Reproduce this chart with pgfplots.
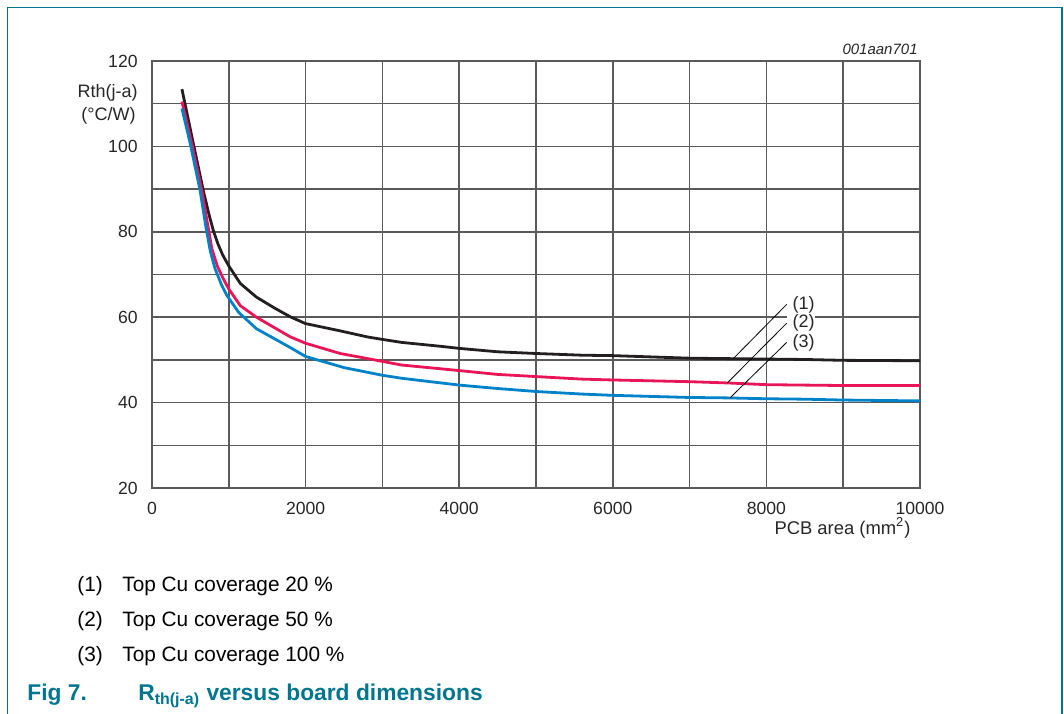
\documentclass[border=0pt]{standalone}
\usepackage{fontspec}
\setmainfont{Liberation Sans}
\usepackage{pgfplots}
\pgfplotsset{compat=1.18}
\definecolor{cblack}{RGB}{35,31,32}
\definecolor{cred}{RGB}{232,22,88}
\definecolor{cblue}{RGB}{0,130,200}
\definecolor{teal1}{RGB}{0,118,142}
\definecolor{gridc}{RGB}{90,90,90}

\begin{document}
\begin{tikzpicture}
\useasboundingbox (-76pt,-112.5pt) rectangle (456pt,244pt);
\draw[teal1, line width=0.75pt] (-72.25pt,-114pt) -- (-72.25pt,240.35pt) -- (455pt,240.35pt) -- (455pt,-114pt);
\begin{axis}[
    at={(0,0)}, anchor=south west,
    scale only axis,
    width=384pt, height=213.5pt,
    xmin=0, xmax=10000, ymin=20, ymax=120,
    xtick={0,2000,...,10000},
    minor xtick={1000,3000,...,9000},
    ytick={20,40,...,120},
    minor ytick={30,50,...,110},
    grid=both,
    major grid style={gridc, line width=0.8pt},
    minor grid style={gridc, line width=0.8pt},
    axis line style={gridc, line width=0.8pt},
    major tick length=0pt, minor tick length=0pt,
    scaled x ticks=false,
    /pgf/number format/1000 sep={},
    /pgf/number format/assume math mode=true,
    ticklabel style={font=\fontsize{8.8}{10}\selectfont, text=black!85},
    yticklabel style={anchor=east, inner sep=0pt, xshift=-7pt},
    xticklabel style={anchor=north, inner sep=0pt, yshift=-7pt},
    clip=false,
  ]
% (1) Top Cu coverage 20 %
\addplot[cblack, line width=1.4pt] coordinates {
 (390,113.4) (540,100.5) (670,89.5) (740,84.2) (800,80.2) (860,77.1) (920,74.6)
 (1000,72) (1150,67.9) (1360,64.7) (1600,62.1) (1800,60.1) (2000,58.5)
 (2450,56.8) (2800,55.4) (3000,54.8) (3250,54.1) (3750,53.2) (4000,52.7)
 (4500,51.9) (5000,51.5) (5600,51.1) (6000,51.0) (6500,50.7) (7000,50.4)
 (7500,50.3) (8000,50.2) (8500,50.1) (9000,49.9) (10000,49.8)};
% (2) Top Cu coverage 50 %
\addplot[cred, line width=1.4pt] coordinates {
 (390,110.5) (520,100.5) (650,89.6) (720,82.2) (780,76.0) (850,72.0) (920,69.3)
 (1000,66.6) (1150,62.7) (1360,60.0) (1800,55.4) (2000,53.9) (2450,51.5)
 (2840,50.2) (3250,48.8) (4000,47.5) (4500,46.6) (5000,46.1) (5600,45.5)
 (6000,45.3) (7000,44.9) (7500,44.6) (8000,44.2) (8500,44.1) (9000,44.0)
 (10000,44.0)};
% (3) Top Cu coverage 100 %
\addplot[cblue, line width=1.4pt] coordinates {
 (390,108.9) (500,100.5) (625,89.8) (700,81.3) (760,75.4) (820,71.4) (900,67.8)
 (975,65.1) (1130,61.1) (1360,57.3) (1800,52.9) (2000,50.8) (2500,48.2)
 (3000,46.4) (3250,45.7) (4000,44.1) (4500,43.3) (5000,42.6) (5600,42.0)
 (6000,41.7) (7000,41.2) (7500,41.1) (8000,40.9) (8500,40.8) (9000,40.6)
 (10000,40.4)};
\draw[black, line width=0.4pt] (axis cs:8264,63.0) -- (axis cs:7569,50.3);
\draw[black, line width=0.4pt] (axis cs:8264,58.6) -- (axis cs:7491,44.6);
\draw[black, line width=0.4pt] (axis cs:8264,54.1) -- (axis cs:7526,41.1);
\begin{scope}[every node/.style={anchor=west, fill=white, inner sep=0pt, outer sep=0pt, text=black!85, font=\fontsize{9}{10}\selectfont}]
\node at (axis cs:8264,63.0) {\hspace{3pt}(1)\hspace{1pt}};
\node at (axis cs:8264,58.6) {\hspace{3pt}(2)\hspace{1pt}};
\node at (axis cs:8264,54.1) {\hspace{3pt}(3)\hspace{1pt}};
\end{scope}
\end{axis}
\node[anchor=east, inner sep=0pt, font=\fontsize{7.5}{9}\selectfont\itshape, text=black!85] at (383pt,219.25pt) {001aan701};
\node[anchor=east, inner sep=0pt, font=\fontsize{9}{10}\selectfont, text=black!85] at (-7pt,197.5pt) {Rth(j-a)};
\node[anchor=east, inner sep=0pt, font=\fontsize{9}{10}\selectfont, text=black!85] at (-8pt,186pt) {(°C/W)};
\node[anchor=center, inner sep=0pt, font=\fontsize{9.2}{10}\selectfont, text=black!85] at (345.25pt,-20pt) {PCB area (mm\textsuperscript{2})};
\begin{scope}[every node/.style={anchor=base west, inner sep=0pt, font=\fontsize{10.4}{12}\selectfont, text=black}]
\node at (-37.5pt,-51.5pt) {(1)};
\node at (-15pt,-51.5pt) {Top Cu coverage 20 \%};
\node at (-37.5pt,-69pt) {(2)};
\node at (-15pt,-69pt) {Top Cu coverage 50 \%};
\node at (-37.5pt,-86.5pt) {(3)};
\node at (-15pt,-86.5pt) {Top Cu coverage 100 \%};
\end{scope}
\begin{scope}[every node/.style={anchor=base west, inner sep=0pt, font=\fontsize{11.4}{13}\selectfont\bfseries, text=teal1}]
\node at (-62.5pt,-106pt) {Fig 7.};
\node at (-7pt,-106pt) {R\textsubscript{th(j-a)} versus board dimensions};
\end{scope}
\end{tikzpicture}
\end{document}
